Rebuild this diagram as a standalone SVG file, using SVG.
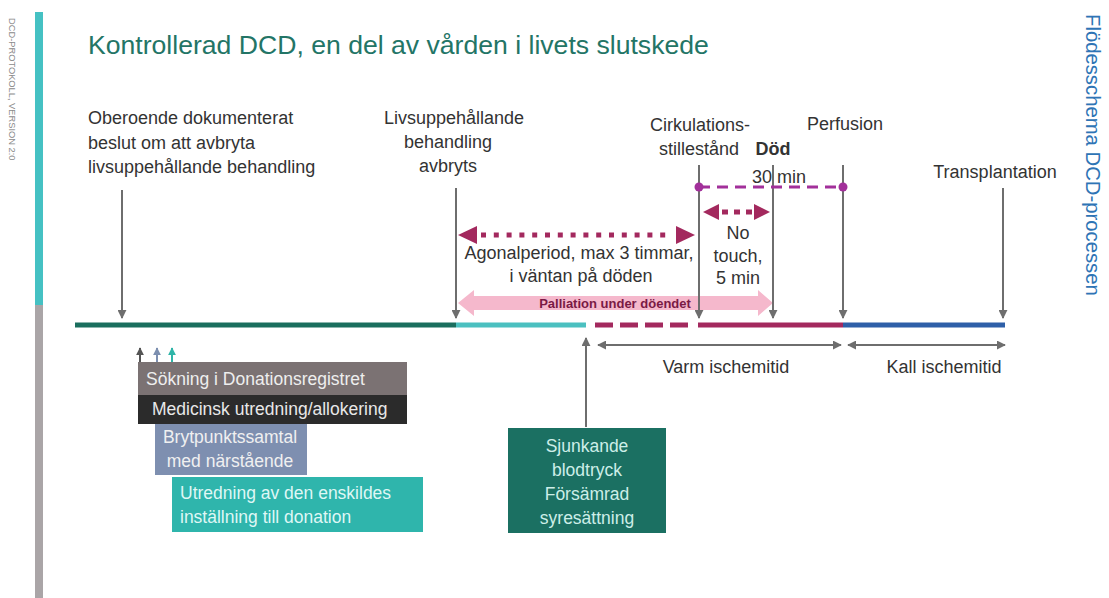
<svg xmlns="http://www.w3.org/2000/svg" width="1109" height="598" viewBox="0 0 1109 598">
<defs>
<marker id="ah" viewBox="0 0 10 10" refX="9" refY="5" markerWidth="4.5" markerHeight="4.5" orient="auto-start-reverse" markerUnits="strokeWidth">
<path d="M0,0 L10,5 L0,10 Z" fill="#6e6e6e"/>
</marker>
<marker id="ahs1" viewBox="0 0 10 10" refX="9" refY="5" markerWidth="4" markerHeight="4" orient="auto" markerUnits="strokeWidth"><path d="M0,0 L10,5 L0,10 Z" fill="#555"/></marker>
<marker id="ahs2" viewBox="0 0 10 10" refX="9" refY="5" markerWidth="4" markerHeight="4" orient="auto" markerUnits="strokeWidth"><path d="M0,0 L10,5 L0,10 Z" fill="#7d8fb0"/></marker>
<marker id="ahs3" viewBox="0 0 10 10" refX="9" refY="5" markerWidth="4" markerHeight="4" orient="auto" markerUnits="strokeWidth"><path d="M0,0 L10,5 L0,10 Z" fill="#2fb5a8"/></marker>
<style>
.t{font-family:"Liberation Sans",Arial,sans-serif;fill:#333;font-size:18px}
.c{text-anchor:middle}
.g{stroke:#6e6e6e;stroke-width:2;fill:none}
.mg{fill:#a3295e}
.bx{font-family:"Liberation Sans",Arial,sans-serif;font-size:17.5px}
</style>
</defs>
<rect width="1109" height="598" fill="#ffffff"/>
<!-- side bars and vertical labels -->
<rect x="35" y="12" width="8" height="293" fill="#45c1c3"/>
<rect x="35" y="305" width="8" height="293" fill="#aaa5a7"/>
<text transform="translate(9,18) rotate(90)" font-family="Liberation Sans,Arial,sans-serif" font-size="9.3" fill="#8a8a8a">DCD-PROTOKOLL, VERSION 2:0</text>
<text transform="translate(1086,14) rotate(90)" font-family="Liberation Sans,Arial,sans-serif" font-size="20.3" fill="#2e74b5">Flödesschema DCD-processen</text>
<!-- title -->
<text x="88" y="54" font-family="Liberation Sans,Arial,sans-serif" font-size="26.6" fill="#237566">Kontrollerad DCD, en del av vården i livets slutskede</text>

<!-- timeline -->
<g id="timeline">
<line x1="75" y1="325" x2="456" y2="325" stroke="#1a6e5e" stroke-width="5"/>
<line x1="456" y1="325" x2="586" y2="325" stroke="#4bc0c0" stroke-width="5"/>
<line x1="595" y1="325" x2="690" y2="325" stroke="#a3295e" stroke-width="5" stroke-dasharray="18 7"/>
<line x1="698" y1="325" x2="843" y2="325" stroke="#a3295e" stroke-width="5"/>
<line x1="843" y1="325" x2="1005" y2="325" stroke="#2e5fa8" stroke-width="5"/>
</g>

<!-- palliation arrow -->
<g id="palliation">
<path d="M458,303 L474,290 L474,296 L758,296 L758,290 L773,303 L758,316 L758,310 L474,310 L474,316 Z" fill="#f5b8cc"/>
<text x="615" y="307.5" class="c" font-family="Liberation Sans,Arial,sans-serif" font-size="13" font-weight="bold" fill="#7a1a45">Palliation under döendet</text>
</g>

<!-- connectors -->
<g id="connectors">
<line class="g" x1="122" y1="190" x2="122" y2="318" marker-end="url(#ah)"/>
<line class="g" x1="456" y1="188" x2="456" y2="318" marker-end="url(#ah)"/>
<line class="g" x1="699" y1="165" x2="699" y2="318" marker-end="url(#ah)"/>
<line class="g" x1="773" y1="165" x2="773" y2="318" marker-end="url(#ah)"/>
<line class="g" x1="843" y1="165" x2="843" y2="318" marker-end="url(#ah)"/>
<line class="g" x1="1003" y1="188" x2="1003" y2="318" marker-end="url(#ah)"/>
<line class="g" x1="586" y1="427" x2="586" y2="338" marker-end="url(#ah)"/>
<line class="g" x1="598" y1="345" x2="841" y2="345" marker-start="url(#ah)" marker-end="url(#ah)"/>
<line class="g" x1="848" y1="345" x2="1005" y2="345" marker-start="url(#ah)" marker-end="url(#ah)"/>
<line x1="140" y1="362" x2="140" y2="348" stroke="#555" stroke-width="2" marker-end="url(#ahs1)"/>
<line x1="157" y1="362" x2="157" y2="348" stroke="#7d8fb0" stroke-width="2" marker-end="url(#ahs2)"/>
<line x1="172" y1="362" x2="172" y2="348" stroke="#2fb5a8" stroke-width="2" marker-end="url(#ahs3)"/>
<!-- 30 min -->
<line x1="699" y1="187" x2="843" y2="187" stroke="#a2309a" stroke-width="3" stroke-dasharray="11 7"/>
<circle cx="699" cy="187" r="4.5" fill="#a2309a"/>
<circle cx="843" cy="187" r="4.5" fill="#a2309a"/>
<!-- agonal -->
<path class="mg" d="M458,235 L477,226 L477,244 Z"/>
<path class="mg" d="M695,235 L676,226 L676,244 Z"/>
<line x1="481" y1="235" x2="673" y2="235" stroke="#a3295e" stroke-width="5" stroke-dasharray="5 7.8"/>
<!-- no touch -->
<path class="mg" d="M703,212 L719,204 L719,220 Z"/>
<path class="mg" d="M770,212 L754,204 L754,220 Z"/>
<line x1="722" y1="212" x2="752" y2="212" stroke="#a3295e" stroke-width="5" stroke-dasharray="6 6"/>
</g>

<!-- labels -->
<g id="n-beslut">
<text class="t" x="88" y="124">Oberoende dokumenterat</text>
<text class="t" x="88" y="149">beslut om att avbryta</text>
<text class="t" x="88" y="173">livsuppehållande behandling</text>
</g>
<g id="n-avbryts">
<text class="t c" x="454" y="124">Livsuppehållande</text>
<text class="t c" x="448" y="148">behandling</text>
<text class="t c" x="448" y="172">avbryts</text>
</g>
<g id="n-cirk">
<text class="t c" x="700" y="131">Cirkulations-</text>
<text class="t c" x="699" y="155">stillestånd</text>
</g>
<g id="n-dod"><text class="t c" x="773" y="155" font-weight="bold">Död</text></g>
<g id="n-perf"><text class="t c" x="845" y="130">Perfusion</text></g>
<g id="n-transpl"><text class="t c" x="995" y="178">Transplantation</text></g>
<g id="n-30"><text class="t c" x="779" y="183">30 min</text></g>
<g id="n-agonal">
<text class="t c" x="579" y="259">Agonalperiod, max 3 timmar,</text>
<text class="t c" x="581" y="282">i väntan på döden</text>
</g>
<g id="n-notouch">
<text class="t c" x="738" y="239">No</text>
<text class="t c" x="738" y="262">touch,</text>
<text class="t c" x="738" y="284">5 min</text>
</g>
<g id="n-varm"><text class="t c" x="726" y="373">Varm ischemitid</text></g>
<g id="n-kall"><text class="t c" x="944" y="373">Kall ischemitid</text></g>

<!-- boxes -->
<g id="n-sokning">
<rect x="138" y="362" width="269" height="33" fill="#7b7273"/>
<text class="bx" x="146" y="385" fill="#eeeeee">Sökning i Donationsregistret</text>
</g>
<g id="n-medicinsk">
<rect x="138" y="395" width="269" height="29" fill="#2b2b2b"/>
<text class="bx" x="152" y="415" fill="#e8e8e8">Medicinsk utredning/allokering</text>
</g>
<g id="n-bryt">
<rect x="155" y="424" width="152" height="51" fill="#7e8fb0"/>
<text class="bx c" x="230" y="443" fill="#f0f0f0">Brytpunktssamtal</text>
<text class="bx c" x="230" y="467" fill="#f0f0f0">med närstående</text>
</g>
<g id="n-utredning">
<rect x="172" y="477" width="251" height="55" fill="#2fb5ac"/>
<text class="bx" x="180" y="499" fill="#dff7f5">Utredning av den enskildes</text>
<text class="bx" x="180" y="523" fill="#dff7f5">inställning till donation</text>
</g>
<g id="n-sjunkande">
<rect x="508" y="428" width="158" height="105" fill="#1b7062"/>
<text class="bx c" x="587" y="452" fill="#cdeee8">Sjunkande</text>
<text class="bx c" x="587" y="476" fill="#cdeee8">blodtryck</text>
<text class="bx c" x="587" y="500" fill="#cdeee8">Försämrad</text>
<text class="bx c" x="587" y="524" fill="#cdeee8">syresättning</text>
</g>
</svg>
